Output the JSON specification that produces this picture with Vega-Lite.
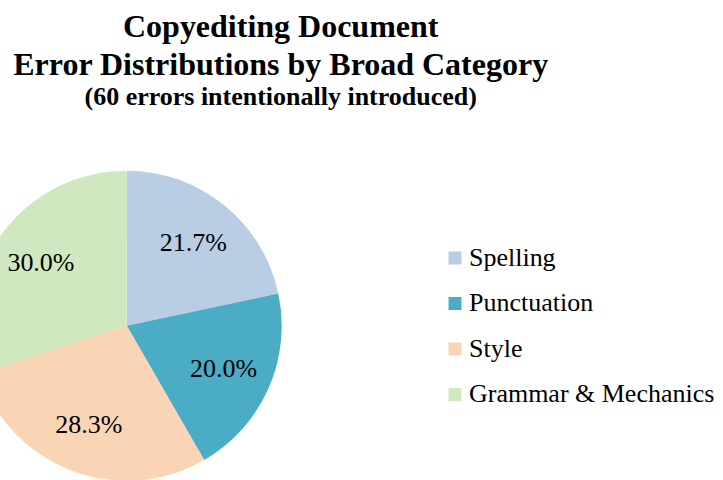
{
  "$schema": "https://vega.github.io/schema/vega-lite/v6.json",
  "autosize": "none",
  "padding": {"left": 0, "top": 120, "right": 469.6, "bottom": 0},
  "width": 253.4,
  "height": 411.4,
  "background": "white",
  "config": {"view": {"stroke": null}, "font": "Liberation Serif"},
  "title": {
    "text": ["Copyediting Document", "Error Distributions by Broad Category"],
    "subtitle": "(60 errors intentionally introduced)",
    "font": "Liberation Serif",
    "fontSize": 32,
    "fontWeight": "bold",
    "lineHeight": 38,
    "subtitleFont": "Liberation Serif",
    "subtitleFontSize": 26,
    "subtitleFontWeight": "bold",
    "subtitleColor": "black",
    "subtitlePadding": 2,
    "color": "black",
    "anchor": "middle",
    "dx": 154,
    "offset": 9
  },
  "data": {
    "values": [
      {"category": "Spelling", "count": 13, "label": "21.7%", "order": 1},
      {"category": "Punctuation", "count": 12, "label": "20.0%", "order": 2},
      {"category": "Style", "count": 17, "label": "28.3%", "order": 3},
      {"category": "Grammar & Mechanics", "count": 18, "label": "30.0%", "order": 4}
    ]
  },
  "encoding": {
    "theta": {"field": "count", "type": "quantitative", "stack": true},
    "order": {"field": "order", "type": "quantitative"},
    "color": {
      "field": "category",
      "type": "nominal",
      "scale": {
        "domain": ["Spelling", "Punctuation", "Style", "Grammar & Mechanics"],
        "range": ["#B9CDE5", "#4BACC6", "#FAD5B5", "#D0E8C0"]
      },
      "legend": {
        "title": null,
        "orient": "none",
        "legendX": 442,
        "legendY": 125,
        "symbolType": "square",
        "symbolSize": 169,
        "symbolStrokeWidth": 0,
        "labelFont": "Liberation Serif",
        "labelFontSize": 26,
        "labelColor": "black",
        "labelOffset": 1,
        "rowPadding": 19.5,
        "labelLimit": 400
      }
    }
  },
  "layer": [
    {"mark": {"type": "arc", "outerRadius": 155}},
    {
      "mark": {"type": "text", "radius": 106, "font": "Liberation Serif", "fontSize": 26, "color": "black"},
      "encoding": {"text": {"field": "label"}, "color": {"value": "black"}}
    }
  ]
}
